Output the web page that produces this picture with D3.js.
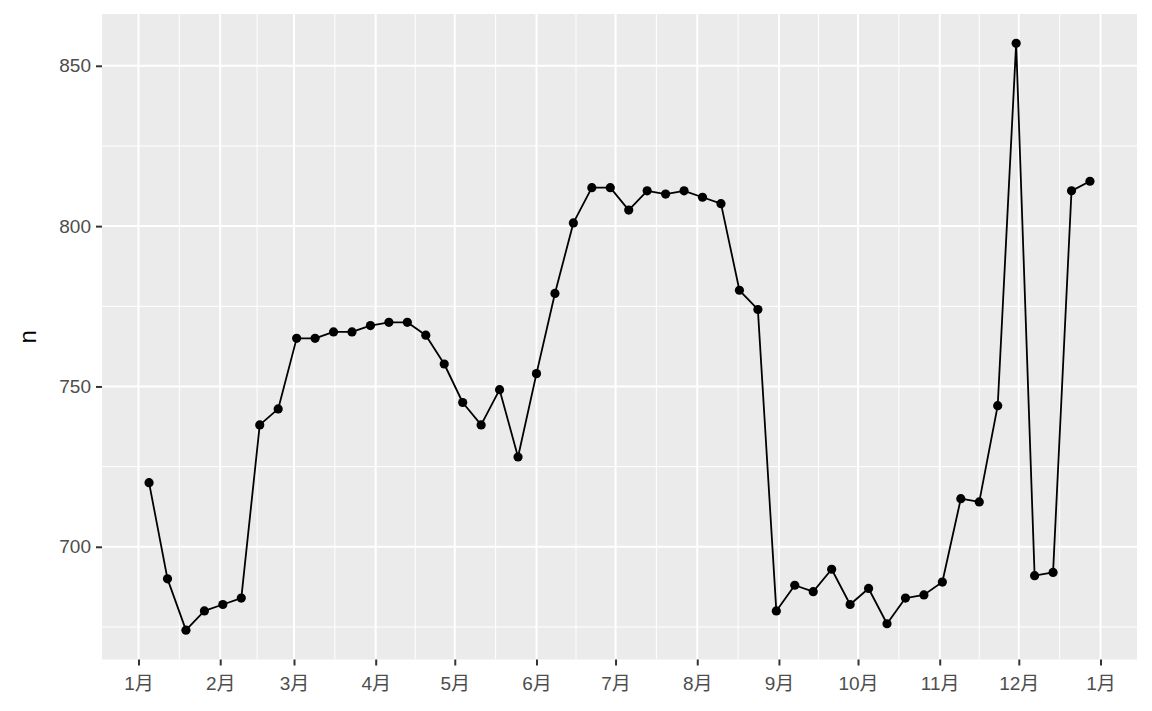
<!DOCTYPE html>
<html>
<head>
<meta charset="utf-8">
<script src="https://cdn.jsdelivr.net/npm/d3@7"></script>
<style>
  html, body { margin: 0; padding: 0; background: #fff; }
  svg { display: block; }
  text { font-family: "Liberation Sans", Arial, "Noto Sans CJK SC", sans-serif; }
</style>
</head>
<body>
<svg id="chart" width="1152" height="711"></svg>
<script>
// ---- data ----
const weeks = [
  "2023-01-05","2023-01-12","2023-01-19","2023-01-26",
  "2023-02-02","2023-02-09","2023-02-16","2023-02-23",
  "2023-03-02","2023-03-09","2023-03-16","2023-03-23","2023-03-30",
  "2023-04-06","2023-04-13","2023-04-20","2023-04-27",
  "2023-05-04","2023-05-11","2023-05-18","2023-05-25",
  "2023-06-01","2023-06-08","2023-06-15","2023-06-22","2023-06-29",
  "2023-07-06","2023-07-13","2023-07-20","2023-07-27",
  "2023-08-03","2023-08-10","2023-08-17","2023-08-24","2023-08-31",
  "2023-09-07","2023-09-14","2023-09-21","2023-09-28",
  "2023-10-05","2023-10-12","2023-10-19","2023-10-26",
  "2023-11-02","2023-11-09","2023-11-16","2023-11-23","2023-11-30",
  "2023-12-07","2023-12-14","2023-12-21","2023-12-28"
];
const counts = [
  720, 690, 674, 680,
  682, 684, 738, 743,
  765, 765, 767, 767, 769,
  770, 770, 766, 757,
  745, 738, 749, 728,
  754, 779, 801, 812, 812,
  805, 811, 810, 811,
  809, 807, 780, 774, 680,
  688, 686, 693, 682,
  687, 676, 684, 685,
  689, 715, 714, 744, 857,
  691, 692, 811, 814
];
const yTicks = [700, 750, 800, 850];
const yMinor = [675, 725, 775, 825];
const monthTicks = [
  "2023-01-01","2023-02-01","2023-03-01","2023-04-01","2023-05-01","2023-06-01",
  "2023-07-01","2023-08-01","2023-09-01","2023-10-01","2023-11-01","2023-12-01","2024-01-01"
];
const monthLabels = ["1月","2月","3月","4月","5月","6月","7月","8月","9月","10月","11月","12月","1月"];
const yTitle = "n";

// ---- layout ----
const panel = { left: 102, right: 1137, top: 14, bottom: 659.5 };
const svg = d3.select("#chart");

const data = weeks.map((w, i) => ({ date: new Date(w + "T00:00:00Z"), n: counts[i] }));
const majorDates = monthTicks.map(s => new Date(s + "T00:00:00Z"));

// expansion (5% each side like ggplot)
const xExt = d3.extent(data, d => d.date.getTime());
const xPad = (xExt[1] - xExt[0]) * 0.05;
const x = d3.scaleUtc()
  .domain([new Date(xExt[0] - xPad), new Date(xExt[1] + xPad)])
  .range([panel.left, panel.right]);

const yExt = d3.extent(counts);
const yPad = (yExt[1] - yExt[0]) * 0.05;
const y = d3.scaleLinear()
  .domain([yExt[0] - yPad, yExt[1] + yPad])
  .range([panel.bottom, panel.top]);

// panel background
svg.append("rect")
  .attr("x", panel.left).attr("y", panel.top)
  .attr("width", panel.right - panel.left)
  .attr("height", panel.bottom - panel.top)
  .attr("fill", "#EBEBEB");

const grid = svg.append("g");
// minor x gridlines: midpoints between month breaks
const minorDates = d3.pairs(majorDates).map(([a, b]) => new Date((a.getTime() + b.getTime()) / 2));
grid.selectAll("line.xminor").data(minorDates).join("line")
  .attr("x1", d => x(d)).attr("x2", d => x(d))
  .attr("y1", panel.top).attr("y2", panel.bottom)
  .attr("stroke", "#fff").attr("stroke-width", 1);
grid.selectAll("line.yminor").data(yMinor).join("line")
  .attr("x1", panel.left).attr("x2", panel.right)
  .attr("y1", d => y(d)).attr("y2", d => y(d))
  .attr("stroke", "#fff").attr("stroke-width", 1);
grid.selectAll("line.xmajor").data(majorDates).join("line")
  .attr("x1", d => x(d)).attr("x2", d => x(d))
  .attr("y1", panel.top).attr("y2", panel.bottom)
  .attr("stroke", "#fff").attr("stroke-width", 2);
grid.selectAll("line.ymajor").data(yTicks).join("line")
  .attr("x1", panel.left).attr("x2", panel.right)
  .attr("y1", d => y(d)).attr("y2", d => y(d))
  .attr("stroke", "#fff").attr("stroke-width", 2);

// axes
const xAxis = d3.axisBottom(x)
  .tickValues(majorDates)
  .tickFormat((d, i) => monthLabels[i])
  .tickSize(6).tickPadding(9);
const gx = svg.append("g").attr("transform", `translate(0,${panel.bottom})`).call(xAxis);
gx.select(".domain").remove();
gx.selectAll(".tick line").attr("stroke", "#333333").attr("stroke-width", 2);
gx.selectAll(".tick text").attr("fill", "#4D4D4D").style("font-size", "19px")
  .attr("dy", "0.8em");

const yAxis = d3.axisLeft(y).tickValues(yTicks).tickSize(6).tickPadding(5);
const gy = svg.append("g").attr("transform", `translate(${panel.left},0)`).call(yAxis);
gy.select(".domain").remove();
gy.selectAll(".tick line").attr("stroke", "#333333").attr("stroke-width", 2);
gy.selectAll(".tick text").attr("fill", "#4D4D4D").style("font-size", "19px");

svg.append("text")
  .attr("transform", `translate(36,${(panel.top + panel.bottom) / 2}) rotate(-90)`)
  .attr("text-anchor", "middle")
  .attr("fill", "#000")
  .style("font-size", "24px")
  .text(yTitle);

// line + points
const line = d3.line().x(d => x(d.date)).y(d => y(d.n));
svg.append("path").datum(data)
  .attr("d", line)
  .attr("fill", "none").attr("stroke", "#000").attr("stroke-width", 1.8)
  .attr("stroke-linejoin", "round");
svg.append("g").selectAll("circle").data(data).join("circle")
  .attr("cx", d => x(d.date)).attr("cy", d => y(d.n))
  .attr("r", 4.6).attr("fill", "#000");
</script>
</body>
</html>
